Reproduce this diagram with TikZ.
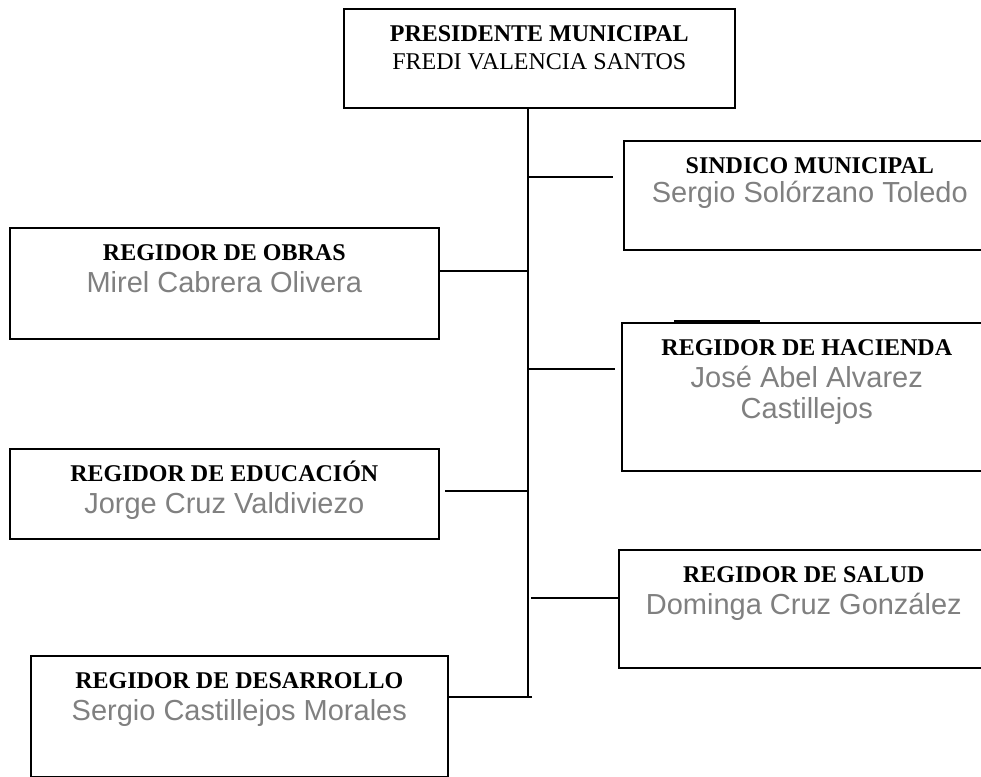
\documentclass[tikz,border=0pt]{standalone}
\usepackage{fontspec}
\setmainfont{Liberation Serif}
\newfontfamily\namefont{Liberation Sans}
\usepackage{tikz}
\definecolor{namegray}{RGB}{128,128,128}

\begin{document}
\begin{tikzpicture}[x=0.5pt,y=-0.5pt,line width=0.8pt]
	\tikzstyle{block} = [draw, rectangle, anchor=north west, inner sep=0pt]
	\tikzstyle{headlab} = [anchor=base, yshift=-16.5pt, font=\fontsize{12}{14}\selectfont\bfseries]
	\tikzstyle{presname} = [anchor=base, yshift=-30.5pt, font=\fontsize{12}{14}\selectfont]
	\tikzstyle{namelab} = [anchor=base, yshift=-32.5pt, text=namegray, font=\fontsize{14.5}{16.5}\selectfont\namefont]

	\useasboundingbox (0,0) rectangle (981,777);

	\node [block, minimum width=195.5pt, minimum height=49.5pt, label={[headlab]north:PRESIDENTE MUNICIPAL}, label={[presname]north:FREDI VALENCIA SANTOS}] (pres) at (343,8) {};

	\node [block, minimum width=186pt, minimum height=54.5pt, label={[headlab]north:SINDICO MUNICIPAL}, label={[namelab, yshift=1.5pt]north:Sergio Solórzano Toledo}] (sind) at (623,140) {};
	\node [block, minimum width=185pt, minimum height=74pt, label={[headlab]north:REGIDOR DE HACIENDA}, label={[namelab]north:José Abel Alvarez}, label={[namelab, yshift=-15.5pt]north:Castillejos}] (hac) at (621,322) {};
	\node [block, minimum width=185pt, minimum height=59pt, label={[headlab]north:REGIDOR DE SALUD}, label={[namelab]north:Dominga Cruz González}] (salud) at (618,549) {};

	\node [block, minimum width=214.5pt, minimum height=55.5pt, label={[headlab]north:REGIDOR DE OBRAS}, label={[namelab]north:Mirel Cabrera Olivera}] (obras) at (9,227) {};
	\node [block, minimum width=214.5pt, minimum height=45pt, label={[headlab]north:REGIDOR DE EDUCACIÓN}, label={[namelab]north:Jorge Cruz Valdiviezo}] (educ) at (9,448) {};
	\node [block, minimum width=208.5pt, minimum height=60.5pt, label={[headlab]north:REGIDOR DE DESARROLLO}, label={[namelab]north:Sergio Castillejos Morales}] (desarr) at (30,655) {};

	\coordinate (j1) at (528,177);
	\coordinate (j2) at (528,271);
	\coordinate (j3) at (528,369);
	\coordinate (j4) at (528,491);
	\coordinate (j5) at (528,598);
	\coordinate (j6) at (528,697);

	\draw (pres.south -| j1) -- (j6);
	\draw [shorten >=5pt] (j1) -- (sind.west |- j1);
	\draw (j2) -- (obras.east |- j2);
	\draw [shorten >=3pt] (j3) -- (hac.west |- j3);
	\draw [shorten >=2.5pt] (j4) -- (educ.east |- j4);
	\draw [shorten <=1.5pt] (j5) -- (salud.west |- j5);
	\draw ([xshift=2pt]j6) -- (desarr.east |- j6);

	\draw [line width=1.2pt] ([xshift=26.5pt,yshift=0.4pt]hac.north west) -- ([xshift=69.5pt,yshift=0.4pt]hac.north west);
\end{tikzpicture}
\end{document}
